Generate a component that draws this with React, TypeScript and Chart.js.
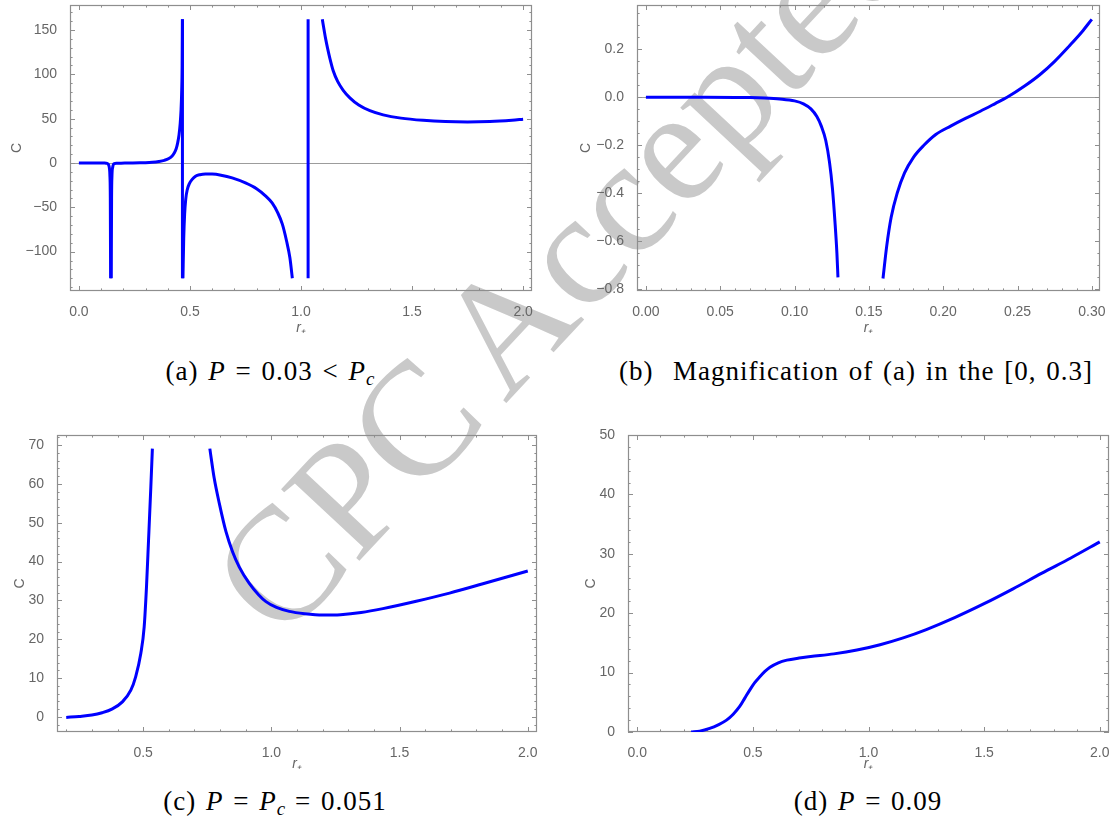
import React, { useEffect, useRef } from "react";
import { Chart, registerables } from "chart.js";

Chart.register(...registerables);
Chart.defaults.font.family = "'Liberation Sans', Arial, sans-serif";

// ---------- Panel (a): P = 0.03 < Pc ----------
const A1_X = [0, 0.05, 0.08, 0.1, 0.115, 0.122, 0.129, 0.134, 0.1375, 0.14, 0.1415, 0.1428];
const A1_Y = [0, -0.001, -0.003, -0.015, -0.08, -0.21, -0.75, -2.2, -6, -16, -40, -130];
const A2_X = [0.1458, 0.1472, 0.149, 0.152, 0.1595, 0.17, 0.19, 0.215, 0.243, 0.275, 0.3, 0.33, 0.36, 0.385, 0.405, 0.42, 0.43, 0.438, 0.445, 0.451, 0.456, 0.46, 0.463, 0.465, 0.4662];
const A2_Y = [-130, -40, -14, -5, -0.75, -0.38, -0.17, -0.09, 0, 0.15, 0.33, 0.8, 1.7, 3, 5, 8, 11.5, 16, 23, 32, 44, 60, 82, 110, 162];
const A_POLE1_X = [0.4662, 0.4662];
const A_POLE1_Y = [162, -130];
const A3_X = [0.4685, 0.472, 0.476, 0.481, 0.488, 0.498, 0.51, 0.525, 0.545, 0.57, 0.6, 0.64, 0.69, 0.75, 0.8, 0.84, 0.87, 0.895, 0.916, 0.935, 0.95, 0.961];
const A3_Y = [-130, -85, -58, -41, -30, -23, -18.5, -15, -13.2, -12.4, -12.5, -13.8, -16.8, -22.5, -29, -37, -45, -56, -69, -88, -107, -130];
const A_POLE2_X = [1.032, 1.032];
const A_POLE2_Y = [-130, 162];
const A4_X = [1.096, 1.104, 1.111, 1.12, 1.13, 1.145, 1.165, 1.19, 1.22, 1.26, 1.31, 1.37, 1.45, 1.55, 1.65, 1.75, 1.85, 1.95, 2.0];
const A4_Y = [162, 150, 140, 129, 118, 104, 92, 82, 73.5, 65.4, 59, 54.3, 50.6, 48.1, 46.7, 46.3, 46.8, 48.3, 49.4];
const A_XTICKS = [0, 0.5, 1, 1.5, 2];
const A_YTICKS = [-100, -50, 0, 50, 100, 150];

// ---------- Panel (b): magnification of (a) on [0, 0.3] ----------
const B1_X = [0, 0.04, 0.06, 0.07, 0.08, 0.09, 0.1, 0.106, 0.111, 0.115, 0.118, 0.121, 0.1235, 0.1255, 0.1272, 0.1285, 0.1292];
const B1_Y = [0, 0, -0.0005, -0.001, -0.003, -0.007, -0.015, -0.027, -0.048, -0.08, -0.12, -0.18, -0.27, -0.38, -0.52, -0.65, -0.75];
const B2_X = [0.1595, 0.162, 0.165, 0.169, 0.174, 0.18, 0.187, 0.195, 0.205, 0.215, 0.225, 0.235, 0.243, 0.255, 0.265, 0.275, 0.285, 0.293, 0.3];
const B2_Y = [-0.755, -0.62, -0.5, -0.4, -0.315, -0.25, -0.2, -0.155, -0.12, -0.088, -0.058, -0.026, 0, 0.048, 0.094, 0.15, 0.215, 0.27, 0.325];
const B_XTICKS = [0, 0.05, 0.1, 0.15, 0.2, 0.25, 0.3];
const B_YTICKS = [-0.8, -0.6, -0.4, -0.2, 0, 0.2];

// ---------- Panel (c): P = Pc = 0.051 ----------
const C1_X = [0.2, 0.25, 0.3, 0.34, 0.38, 0.419, 0.452, 0.471, 0.491, 0.504, 0.513, 0.521, 0.53, 0.536];
const C1_Y = [-0.1, 0.15, 0.5, 1.1, 2.1, 3.9, 6.9, 10.4, 16.4, 23.2, 33.5, 45.5, 59.3, 69.1];
const C2_X = [0.76, 0.777, 0.797, 0.823, 0.849, 0.875, 0.914, 0.95, 0.979, 1.02, 1.07, 1.13, 1.2, 1.27, 1.35, 1.435, 1.565, 1.695, 1.825, 2.0];
const C2_Y = [69.1, 61.5, 55, 47.7, 42.5, 38.6, 34.4, 31.5, 29.7, 28.2, 27.2, 26.6, 26.25, 26.35, 26.9, 27.9, 29.8, 31.9, 34.3, 37.6];
const C_XTICKS = [0.5, 1, 1.5, 2];
const C_YTICKS = [0, 10, 20, 30, 40, 50, 60, 70];

// ---------- Panel (d): P = 0.09 ----------
const D1_X = [0.233, 0.27, 0.313, 0.35, 0.386, 0.415, 0.443, 0.465, 0.487, 0.508, 0.53, 0.552, 0.574, 0.61, 0.647, 0.7, 0.75, 0.85, 0.95, 1.05, 1.15, 1.25, 1.375, 1.5, 1.625, 1.75, 1.875, 2.0];
const D1_Y = [0, 0.15, 0.6, 1.2, 2.0, 3.0, 4.3, 5.7, 7.1, 8.3, 9.3, 10.2, 10.9, 11.65, 12.1, 12.45, 12.7, 13.15, 13.8, 14.7, 15.85, 17.25, 19.3, 21.6, 24.1, 26.75, 29.3, 32.0];
const D_XTICKS = [0, 0.5, 1, 1.5, 2];
const D_YTICKS = [0, 10, 20, 30, 40, 50];

const CAPTIONS = {
  a: ["(a) ", "P", " = 0.03 < ", "P", "c"],
  b: "(b)\u00a0 Magnification of (a) in the [0, 0.3]",
  c: ["(c) ", "P", " = ", "P", "c", " = 0.051"],
  d: ["(d) ", "P", " = 0.09"],
};

const X_TITLE = "r\u208A";
const Y_TITLE = "C";
const WATERMARK = "CPC Accepted";

type Seg = { x: number[]; y: number[]; straight?: boolean };

interface Spec {
  box: { left: number; top: number; width: number; height: number };
  frame: { l: number; t: number; r: number; b: number };
  xMin: number; xMax: number; yMin: number; yMax: number;
  xTicks: number[]; yTicks: number[];
  xMinor: number; yMinor: number;
  xDec: number; yDec: number;
  segs: Seg[];
  zero: boolean;
  yTitlePad: number; xTitlePad: number;
}

const FRAME_COLOR = "#8e8e8e";
const LABEL_COLOR = "#666666";

const framePlugin = {
  id: "mmaFrame",
  beforeDatasetsDraw(chart: any, _args: any, opts: any) {
    const { ctx, chartArea } = chart;
    const { left, right, top, bottom } = chartArea;
    const xs = chart.scales.x;
    const ys = chart.scales.y;
    ctx.save();
    if (opts.zero) {
      const py = Math.round(ys.getPixelForValue(0)) + 0.5;
      ctx.strokeStyle = "#9c9c9c";
      ctx.lineWidth = 1;
      ctx.beginPath();
      ctx.moveTo(left, py);
      ctx.lineTo(right, py);
      ctx.stroke();
    }
    ctx.strokeStyle = FRAME_COLOR;
    ctx.lineWidth = 1.2;
    ctx.strokeRect(left + 0.5, top + 0.5, right - left - 1, bottom - top - 1);
    const major = 5;
    const minor = 2.6;
    const drawX = (v: number, len: number) => {
      const px = Math.round(xs.getPixelForValue(v)) + 0.5;
      ctx.beginPath();
      ctx.moveTo(px, bottom);
      ctx.lineTo(px, bottom - len);
      ctx.moveTo(px, top);
      ctx.lineTo(px, top + len);
      ctx.stroke();
    };
    const drawY = (v: number, len: number) => {
      const py = Math.round(ys.getPixelForValue(v)) + 0.5;
      ctx.beginPath();
      ctx.moveTo(left, py);
      ctx.lineTo(left + len, py);
      ctx.moveTo(right, py);
      ctx.lineTo(right - len, py);
      ctx.stroke();
    };
    ctx.lineWidth = 1;
    const isMajor = (v: number, arr: number[]) => arr.some((m) => Math.abs(m - v) < 1e-9);
    const i0 = Math.ceil(opts.xMin / opts.xMinor - 1e-9);
    const i1 = Math.floor(opts.xMax / opts.xMinor + 1e-9);
    for (let i = i0; i <= i1; i++) {
      const v = i * opts.xMinor;
      if (!isMajor(v, opts.xTicks)) drawX(v, minor);
    }
    const j0 = Math.ceil(opts.yMin / opts.yMinor - 1e-9);
    const j1 = Math.floor(opts.yMax / opts.yMinor + 1e-9);
    for (let j = j0; j <= j1; j++) {
      const v = j * opts.yMinor;
      if (!isMajor(v, opts.yTicks)) drawY(v, minor);
    }
    opts.xTicks.forEach((v: number) => drawX(v, major));
    opts.yTicks.forEach((v: number) => drawY(v, major));
    ctx.restore();
  },
};

const fmt = (v: number, dec: number) => {
  const s = Number(v).toFixed(dec);
  return s.startsWith("-") ? "\u2212" + s.slice(1) : s;
};

function Panel({ spec }: { spec: Spec }) {
  const ref = useRef<HTMLCanvasElement | null>(null);
  useEffect(() => {
    if (!ref.current) return;
    const s = spec;
    const datasets = s.segs.map((seg) => ({
      data: seg.x.map((x, i) => ({ x, y: seg.y[i] })),
      borderColor: "#0000ff",
      borderWidth: 3,
      pointRadius: 0,
      fill: false,
      tension: 0,
      cubicInterpolationMode: seg.straight ? "default" : "monotone",
    }));
    const chart = new Chart(ref.current, {
      type: "line",
      data: { datasets } as any,
      options: {
        animation: false,
        responsive: true,
        maintainAspectRatio: false,
        events: [],
        layout: {
          padding: { left: 0, top: s.frame.t, right: s.box.width - s.frame.r, bottom: 0 },
        },
        plugins: {
          legend: { display: false },
          tooltip: { enabled: false },
          mmaFrame: {
            zero: s.zero,
            xTicks: s.xTicks, yTicks: s.yTicks,
            xMinor: s.xMinor, yMinor: s.yMinor,
            xMin: s.xMin, xMax: s.xMax, yMin: s.yMin, yMax: s.yMax,
          },
        } as any,
        scales: {
          x: {
            type: "linear",
            min: s.xMin,
            max: s.xMax,
            afterBuildTicks: (sc: any) => {
              sc.ticks = s.xTicks.map((v) => ({ value: v }));
            },
            afterFit: (sc: any) => {
              sc.height = s.box.height - s.frame.b;
              sc.paddingLeft = 0; sc.paddingRight = 0; sc.paddingTop = 0; sc.paddingBottom = 0;
            },
            grid: { display: false },
            border: { display: false },
            ticks: {
              color: LABEL_COLOR,
              font: { size: 14 },
              padding: 5,
              maxRotation: 0,
              autoSkip: false,
              callback: (v: any) => fmt(v, s.xDec),
            },
            title: {
              display: true,
              text: X_TITLE,
              color: LABEL_COLOR,
              font: { size: 14, style: "italic" },
              padding: { top: 0, bottom: s.xTitlePad },
            },
          },
          y: {
            type: "linear",
            min: s.yMin,
            max: s.yMax,
            afterBuildTicks: (sc: any) => {
              sc.ticks = s.yTicks.map((v) => ({ value: v }));
            },
            afterFit: (sc: any) => {
              sc.width = s.frame.l;
              sc.paddingLeft = 0; sc.paddingRight = 0; sc.paddingTop = 0; sc.paddingBottom = 0;
            },
            grid: { display: false },
            border: { display: false },
            ticks: {
              color: LABEL_COLOR,
              font: { size: 14 },
              padding: 5,
              autoSkip: false,
              callback: (v: any) => fmt(v, s.yDec),
            },
            title: {
              display: true,
              text: Y_TITLE,
              color: LABEL_COLOR,
              font: { size: 14 },
              padding: { top: s.yTitlePad, bottom: 0 },
            },
          },
        },
      } as any,
      plugins: [framePlugin as any],
    });
    return () => chart.destroy();
  }, [spec]);
  return (
    <div
      style={{
        position: "absolute",
        left: spec.box.left,
        top: spec.box.top,
        width: spec.box.width,
        height: spec.box.height,
      }}
    >
      <canvas ref={ref} />
    </div>
  );
}

const SPECS: Spec[] = [
  {
    box: { left: 0, top: 0, width: 550, height: 340 },
    frame: { l: 70, t: 5, r: 532, b: 291 },
    xMin: -0.04, xMax: 2.04, yMin: -144.4, yMax: 178.2,
    xTicks: A_XTICKS, yTicks: A_YTICKS, xMinor: 0.1, yMinor: 10, xDec: 1, yDec: 0,
    segs: [
      { x: A1_X, y: A1_Y }, { x: A2_X, y: A2_Y },
      { x: A_POLE1_X, y: A_POLE1_Y, straight: true },
      { x: A3_X, y: A3_Y },
      { x: A_POLE2_X, y: A_POLE2_Y, straight: true },
      { x: A4_X, y: A4_Y },
    ],
    zero: true, yTitlePad: 9, xTitlePad: 3,
  },
  {
    box: { left: 556, top: 0, width: 555, height: 340 },
    frame: { l: 81, t: 5, r: 544, b: 291 },
    xMin: -0.006, xMax: 0.3055, yMin: -0.807, yMax: 0.3846,
    xTicks: B_XTICKS, yTicks: B_YTICKS, xMinor: 0.01, yMinor: 0.05, xDec: 2, yDec: 1,
    segs: [{ x: B1_X, y: B1_Y }, { x: B2_X, y: B2_Y }],
    zero: true, yTitlePad: 22, xTitlePad: 3,
  },
  {
    box: { left: 0, top: 420, width: 550, height: 360 },
    frame: { l: 57, t: 15, r: 537, b: 312 },
    xMin: 0.164, xMax: 2.036, yMin: -3.86, yMax: 72.6,
    xTicks: C_XTICKS, yTicks: C_YTICKS, xMinor: 0.1, yMinor: 2, xDec: 1, yDec: 0,
    segs: [{ x: C1_X, y: C1_Y }, { x: C2_X, y: C2_Y }],
    zero: false, yTitlePad: 12, xTitlePad: 7,
  },
  {
    box: { left: 556, top: 420, width: 555, height: 360 },
    frame: { l: 72, t: 15, r: 553, b: 312 },
    xMin: -0.04, xMax: 2.04, yMin: 0, yMax: 50,
    xTicks: D_XTICKS, yTicks: D_YTICKS, xMinor: 0.1, yMinor: 2, xDec: 1, yDec: 0,
    segs: [{ x: D1_X, y: D1_Y }],
    zero: false, yTitlePad: 27, xTitlePad: 7,
  },
];

const capStyle = (center: number, top: number): React.CSSProperties => ({
  position: "absolute",
  left: center - 300,
  width: 600,
  top,
  textAlign: "center",
  fontFamily: "'Liberation Serif', 'DejaVu Serif', serif",
  fontSize: 27,
  lineHeight: "27px",
  letterSpacing: "1px",
  wordSpacing: "2px",
  whiteSpace: "pre",
  color: "#000",
});

const subStyle: React.CSSProperties = { fontSize: "0.7em", verticalAlign: "-0.25em", fontStyle: "italic", letterSpacing: 0 };

export default function App() {
  return (
    <div
      style={{
        position: "absolute",
        left: 0,
        top: 0,
        width: 1111,
        height: 827,
        background: "#fff",
        overflow: "hidden",
      }}
    >
      <div
        style={{
          position: "absolute",
          left: 183,
          top: 552,
          transformOrigin: "0 0",
          transform: "rotate(-47deg)",
          fontFamily: "'Liberation Serif', serif",
          fontSize: 162,
          lineHeight: "162px",
          wordSpacing: "-10px",
          color: "#c9c9c9",
          whiteSpace: "pre",
        }}
      >
        {WATERMARK}
      </div>
      {SPECS.map((s, i) => (
        <Panel key={i} spec={s} />
      ))}
      <div style={capStyle(270, 358)}>
        {CAPTIONS.a[0]}<i>{CAPTIONS.a[1]}</i>{CAPTIONS.a[2]}<i>{CAPTIONS.a[3]}</i>
        <span style={subStyle}>{CAPTIONS.a[4]}</span>
      </div>
      <div style={capStyle(856, 358)}>{CAPTIONS.b}</div>
      <div style={capStyle(275, 788)}>
        {CAPTIONS.c[0]}<i>{CAPTIONS.c[1]}</i>{CAPTIONS.c[2]}<i>{CAPTIONS.c[3]}</i>
        <span style={subStyle}>{CAPTIONS.c[4]}</span>{CAPTIONS.c[5]}
      </div>
      <div style={capStyle(868, 788)}>
        {CAPTIONS.d[0]}<i>{CAPTIONS.d[1]}</i>{CAPTIONS.d[2]}
      </div>
    </div>
  );
}
